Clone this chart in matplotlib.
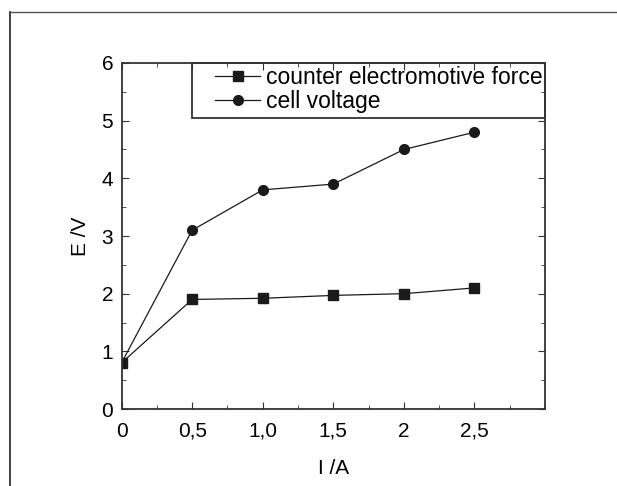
import matplotlib.pyplot as plt
from matplotlib.lines import Line2D
from matplotlib.patches import Rectangle
from matplotlib.ticker import MultipleLocator

current = [0, 0.5, 1.0, 1.5, 2.0, 2.5]
cemf = [0.8, 1.9, 1.92, 1.97, 2.0, 2.1]
cell_v = [0.8, 3.1, 3.8, 3.9, 4.5, 4.8]
x_ticks = [0, 0.5, 1.0, 1.5, 2.0, 2.5]
x_labels = ['0', '0,5', '1,0', '1,5', '2', '2,5']
y_ticks = [0, 1, 2, 3, 4, 5, 6]

plt.rcParams['font.family'] = ['Liberation Sans', 'DejaVu Sans']

fig = plt.figure(figsize=(6.17, 4.86), dpi=100)
ax = fig.add_axes([0.197, 0.1584, 0.6864, 0.712])

ax.plot(current, cemf, color='#1a1a1a', lw=0.9, marker='s', ms=6.5,
        label='counter electromotive force')
ax.plot(current, cell_v, color='#1a1a1a', lw=0.9, marker='o', ms=7,
        label='cell voltage')

ax.set_xlim(0, 3)
ax.set_ylim(0, 6)
ax.set_xticks(x_ticks)
ax.set_xticklabels(x_labels)
ax.set_yticks(y_ticks)
ax.xaxis.set_minor_locator(MultipleLocator(0.25))
ax.yaxis.set_minor_locator(MultipleLocator(0.5))
ax.tick_params(which='both', direction='in', top=True, right=True,
               labelsize=15, color='#333333')
ax.tick_params(which='major', length=5)
ax.tick_params(axis='x', which='major', pad=9)
ax.tick_params(axis='y', which='major', pad=6)
ax.tick_params(which='minor', length=3)
for s in ax.spines.values():
    s.set_color('#333333')
    s.set_linewidth(1.3)

ax.set_xlabel('I /A', fontsize=15, labelpad=13)
ax.set_ylabel('E /V', fontsize=15, labelpad=8)

# legend frame drawn separately so the padding matches the original
ax.add_patch(Rectangle((0.1665, 0.841), 0.8335, 0.159, transform=ax.transAxes,
                       fill=False, edgecolor='#333333', lw=1.3, zorder=4,
                       clip_on=False))
ax.legend(loc='upper left', bbox_to_anchor=(0.2137, 1.0), fontsize=16.5,
          frameon=False, borderaxespad=0, borderpad=0.15, handlelength=1.95,
          handletextpad=0.27, labelspacing=0.02)

# outer frame lines (left and top)
fig.add_artist(Line2D([0.016, 0.016], [0, 0.975], transform=fig.transFigure,
                      color='#333333', lw=1.3))
fig.add_artist(Line2D([0.016, 1.0], [0.975, 0.975], transform=fig.transFigure,
                      color='#555555', lw=1.0))

fig.savefig('out.png', dpi=100)
